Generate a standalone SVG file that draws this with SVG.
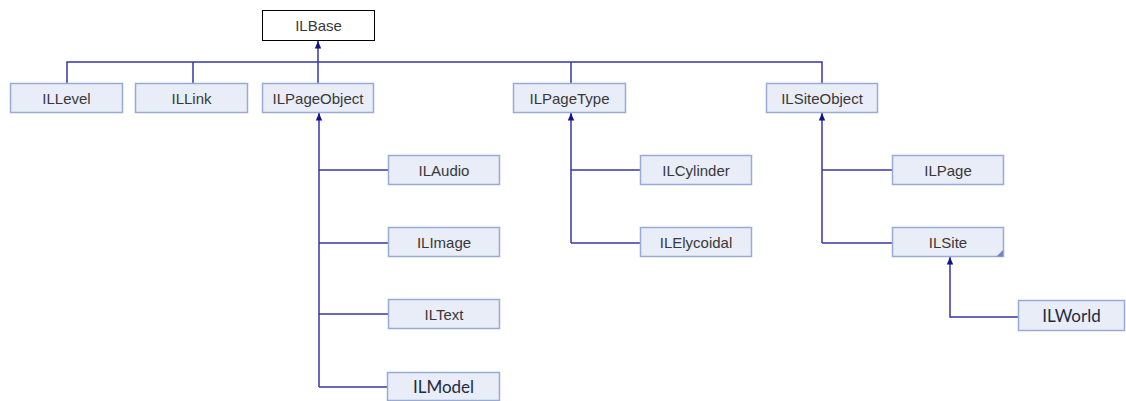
<svg xmlns="http://www.w3.org/2000/svg" width="1126" height="401" viewBox="0 0 1126 401">
  <style>
    .node rect { fill: #e8edf7; stroke: #98aad6; stroke-width: 1.5; }
    .root rect { fill: #ffffff; stroke: #000000; stroke-width: 1; }
    .node text, .root text { font-family: "Liberation Sans", Arial, sans-serif; font-size: 15px; fill: #383838; text-anchor: middle; }
    .node text.alt { font-family: Lato, "Open Sans", sans-serif; font-size: 17px; fill: #1f2a44; }
    .edges path { fill: none; stroke: #3636a6; stroke-width: 1.5; }
  </style>
  <defs>
    <marker id="inherit" viewBox="0 0 8 7" refX="7.5" refY="3.5" markerWidth="8" markerHeight="7" orient="auto" markerUnits="userSpaceOnUse">
      <path d="M0,0.3 L7.5,3.5 L0,6.7 Z" fill="#14148a"/>
    </marker>
  </defs>
  <rect width="1126" height="401" fill="#ffffff"/>

  <!-- connectors -->
  <g class="edges">
    <path d="M318,84 V41" marker-end="url(#inherit)"/>
    <path d="M67,83 V62 H822 V83"/>
    <path d="M193,62 V83"/>
    <path d="M571,62 V83"/>
    <path d="M319,387 V113" marker-end="url(#inherit)"/>
    <path d="M319,170 H388"/>
    <path d="M319,243 H388"/>
    <path d="M319,314 H388"/>
    <path d="M319,387 H388"/>
    <path d="M571,243 V113" marker-end="url(#inherit)"/>
    <path d="M571,170 H640"/>
    <path d="M571,243 H640"/>
    <path d="M822,243 V113" marker-end="url(#inherit)"/>
    <path d="M822,170 H892"/>
    <path d="M822,243 H892"/>
    <path d="M1018,317 H950 V257" marker-end="url(#inherit)"/>
  </g>

  <g id="ILBase" class="root"><rect x="262.5" y="10.5" width="112" height="30"/><text x="318.5" y="31">ILBase</text></g>
  <g id="ILLevel" class="node"><rect x="10.5" y="83.5" width="112" height="29"/><text x="66.5" y="104">ILLevel</text></g>
  <g id="ILLink" class="node"><rect x="135.5" y="83.5" width="112" height="29"/><text x="191.5" y="104">ILLink</text></g>
  <g id="ILPageObject" class="node"><rect x="262.5" y="83.5" width="111" height="29"/><text x="318" y="104">ILPageObject</text></g>
  <g id="ILPageType" class="node"><rect x="513.5" y="83.5" width="112" height="29"/><text x="569.5" y="104">ILPageType</text></g>
  <g id="ILSiteObject" class="node"><rect x="766.5" y="83.5" width="111" height="29"/><text x="822" y="104">ILSiteObject</text></g>

  <g id="ILAudio" class="node"><rect x="388.5" y="155.5" width="111" height="29"/><text x="444" y="176">ILAudio</text></g>
  <g id="ILImage" class="node"><rect x="388.5" y="227.5" width="111" height="29"/><text x="444" y="248">ILImage</text></g>
  <g id="ILText" class="node"><rect x="388.5" y="299.5" width="111" height="29"/><text x="444" y="320">ILText</text></g>
  <g id="ILModel" class="node"><rect x="387.5" y="372.5" width="112" height="28"/><text class="alt" x="443.5" y="393">ILModel</text></g>

  <g id="ILCylinder" class="node"><rect x="640.5" y="155.5" width="111" height="29"/><text x="696" y="176">ILCylinder</text></g>
  <g id="ILElycoidal" class="node"><rect x="640.5" y="227.5" width="111" height="29"/><text x="696" y="248">ILElycoidal</text></g>

  <g id="ILPage" class="node"><rect x="892.5" y="155.5" width="111" height="29"/><text x="948" y="176">ILPage</text></g>
  <g id="ILSite" class="node"><rect x="892.5" y="227.5" width="111" height="29"/><text x="948" y="248">ILSite</text><path d="M1003,250 V256.5 H996.5 Z" fill="#6f86c4"/></g>
  <g id="ILWorld" class="node"><rect x="1018.5" y="300.5" width="106" height="30"/><text class="alt" x="1071.5" y="322">ILWorld</text></g>
</svg>
